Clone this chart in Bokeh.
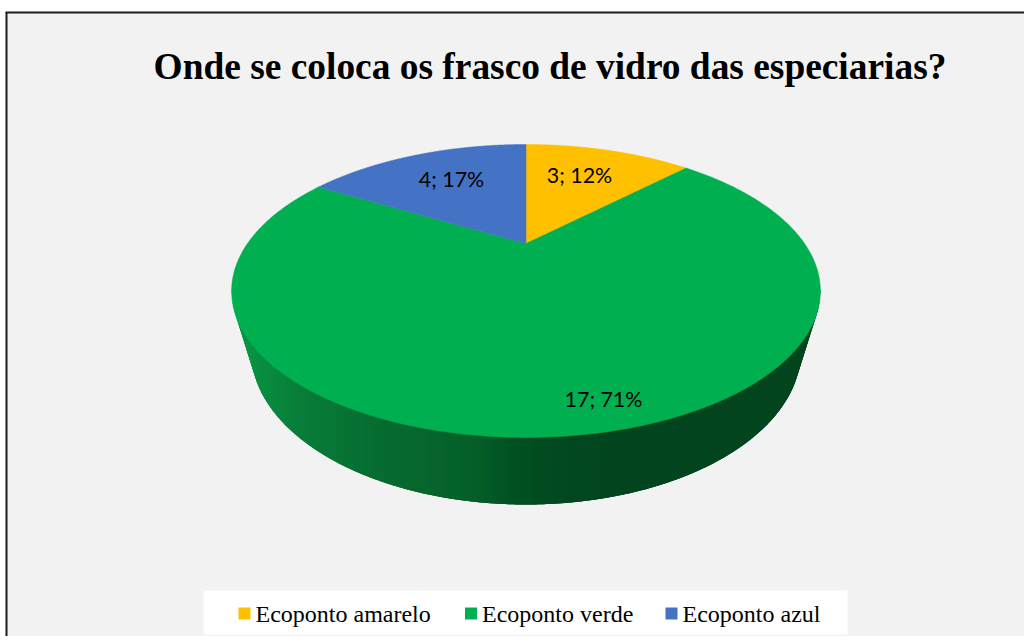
import numpy as np
from bokeh.plotting import figure
from bokeh.models import Range1d
from bokeh.core.properties import value
from bokeh.embed import file_html
from bokeh.resources import INLINE

TITLE = "Onde se coloca os frasco de vidro das especiarias?"
categories = ["Ecoponto amarelo", "Ecoponto verde", "Ecoponto azul"]
counts = [3, 17, 4]
colors = ["#FFC000", "#00B050", "#4472C4"]

# layout: the plot's data units are picture pixels
AX, AY = 525.5, 243.0          # pie apex
KY, C, MX = 131.1, 0.324, 278.5  # perspective of the top disc
BOT = dict(cx=525.5, cy=350.0, rx=275.0, ry=154.0)  # bottom rim
label_pos = [(579, 174), (603, 398), (451, 178)]
legend_sq = [238, 464.5, 665]

p = figure(width=1024, height=636, x_range=Range1d(0, 1024), y_range=Range1d(636, 0),
           toolbar_location=None, output_backend="svg",
           min_border=0, outline_line_color=None, border_fill_color="white",
           background_fill_color="white")
p.axis.visible = False
p.grid.visible = False

p.quad(left=6, right=1024, top=12, bottom=636, fill_color="#F2F2F2", line_color=None)
p.line([6, 6], [12, 636], line_color="#1c1c1c", line_width=2)
p.line([5, 1024], [12, 12], line_color="#1c1c1c", line_width=2)


def disc(theta):
    u, v = np.sin(theta), np.cos(theta)
    d = 1 + C * v
    return AX + MX * u / d, AY - KY * v / d


# side wall: hull of top disc and bottom rim
t = np.linspace(0, 2 * np.pi, 1440)
tx, ty = disc(t)
bx = BOT["cx"] + BOT["rx"] * np.sin(t)
by = BOT["cy"] + BOT["ry"] * np.cos(t)
pts = sorted(zip(np.r_[tx, bx], np.r_[ty, by]))
hull = []
for q in pts:
    while len(hull) >= 2:
        (x1, y1), (x2, y2) = hull[-2], hull[-1]
        if (x2 - x1) * (q[1] - y1) - (y2 - y1) * (q[0] - x1) >= 0:
            hull.pop()
        else:
            break
    hull.append(q)
hx, hy = map(np.array, zip(*hull))
i_r, i_l = int(np.argmax(tx)), int(np.argmin(tx))
fx, fy = tx[i_r:i_l + 1][::-1], ty[i_r:i_l + 1][::-1]

stop_x = [231, 300, 380, 470, 520, 560, 620, 821]
stop_rgb = np.array([[10, 154, 69], [8, 125, 57], [7, 108, 48], [5, 96, 41],
                     [0, 80, 34], [3, 72, 32], [3, 68, 31], [3, 68, 31]])
xs, ys, cs = [], [], []
x_lo, x_hi = fx.min(), fx.max()
for x0 in np.arange(np.ceil(x_lo) - 1, np.floor(x_hi) + 1):
    xa, xb = max(x0, x_lo), min(x0 + 3, x_hi)
    upper0, upper1 = np.interp([xa, xb], fx, fy) - 2
    lower0, lower1 = np.interp([xa, xb], hx, hy)
    xs.append([xa, xb, xb, xa])
    ys.append([upper0, upper1, lower1, lower0])
    rgb = [int(round(np.interp(x0 + 1, stop_x, stop_rgb[:, i]))) for i in range(3)]
    cs.append("#%02x%02x%02x" % tuple(rgb))
p.patches(xs, ys, fill_color=cs, line_color=None)

# top slices
angles = np.cumsum([0] + counts) / sum(counts) * 2 * np.pi
for a0, a1, col in zip(angles[:-1], angles[1:], colors):
    th = np.linspace(a0, a1, 300)
    x, y = disc(th)
    p.patch(np.r_[AX, x], np.r_[AY, y], fill_color=col, line_color=col, line_width=0.5)

# data labels
for v, (lx, ly) in zip(counts, label_pos):
    p.text([lx], [ly], text=[f"{v}; {round(v / sum(counts) * 100)}%"], text_align="center",
           text_baseline="middle", text_font=value("Lato"), text_font_size="21.4px",
           text_color="black")

# title
p.text([549.5], [66], text=[TITLE], text_align="center", text_baseline="middle",
       text_font=value("Liberation Serif"), text_font_style="bold",
       text_font_size="37.4px", text_color="black")

# legend
p.quad(left=203, right=847, top=590, bottom=634, fill_color="white", line_color=None)
for sx, name, col in zip(legend_sq, categories, colors):
    p.quad(left=sx, right=sx + 12, top=607, bottom=619, fill_color=col, line_color=None)
    p.text([sx + 17], [613], text=[name], text_align="left", text_baseline="middle",
           text_font=value("Liberation Serif"), text_font_size="24px", text_color="black")

open("out.html", "w").write(file_html(p, INLINE))
